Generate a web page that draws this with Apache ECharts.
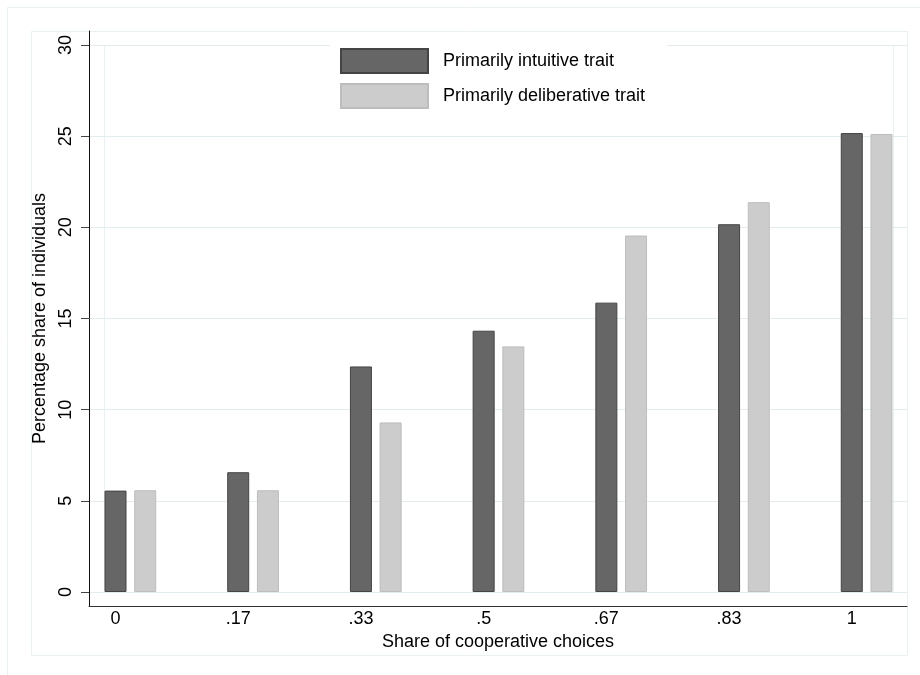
<!DOCTYPE html>
<html>
<head>
<meta charset="utf-8">
<script src="https://cdn.jsdelivr.net/npm/echarts@6/dist/echarts.min.js"></script>
<style>
html,body{margin:0;padding:0;background:#fff;}
#chart{width:920px;height:675px;}
</style>
</head>
<body>
<div id="chart"></div>
<script>
// ---- data ----
const categories = ['0', '.17', '.33', '.5', '.67', '.83', '1'];
const seriesNames = ['Primarily intuitive trait', 'Primarily deliberative trait'];
const intuitive = [5.56, 6.57, 12.37, 14.33, 15.87, 20.17, 25.17];
const deliberative = [5.58, 5.58, 9.30, 13.47, 19.55, 21.38, 25.12];
const yMin = 0, yMax = 30, yStep = 5;
const xTitle = 'Share of cooperative choices';
const yTitle = 'Percentage share of individuals';

const FONT = '"Liberation Sans", Arial, sans-serif';
const faint = '#e9f1f2';
const gridColor = '#e3edf0';

const chart = echarts.init(document.getElementById('chart'), null, {renderer: 'canvas'});
const catIdx = categories.map((_, i) => i);

const option = {
  animation: false,
  backgroundColor: '#ffffff',
  textStyle: {fontFamily: FONT},
  graphic: [
    {type: 'rect', z: 0, silent: true, shape: {x: 7.5, y: 7.5, width: 940, height: 700}, style: {fill: 'none', stroke: faint, lineWidth: 1}},
    {type: 'rect', z: 0, silent: true, shape: {x: 31.5, y: 31.5, width: 876, height: 624}, style: {fill: 'none', stroke: faint, lineWidth: 1}},
    {type: 'rect', z: 0, silent: true, shape: {x: 104.5, y: 45.5, width: 789, height: 547}, style: {fill: 'none', stroke: faint, lineWidth: 1}}
  ],
  legend: {
    orient: 'vertical',
    left: 330,
    top: 38,
    itemWidth: 87,
    itemHeight: 24,
    itemGap: 9,
    padding: [10, 22, 6, 10],
    backgroundColor: '#ffffff',
    icon: 'rect',
    data: seriesNames,
    textStyle: {fontSize: 18, color: '#000', fontFamily: FONT, padding: [0, 0, 0, 10]}
  },
  grid: [
    {left: 89, right: 13, top: 45, bottom: 83},
    {left: 89, right: 13, top: 31, bottom: 69}
  ],
  xAxis: [
    {
      gridIndex: 0,
      type: 'value',
      min: -0.337,
      max: 6.329,
      offset: 14,
      axisLine: {show: false, onZero: false},
      axisTick: {show: false},
      splitLine: {show: false},
      axisLabel: {
        customValues: catIdx,
        formatter: v => (categories[v] !== undefined ? categories[v] : ''),
        padding: [0, 29.7, 0, 0],
        margin: 4,
        fontSize: 18,
        color: '#000',
        fontFamily: FONT
      },
      name: xTitle,
      nameLocation: 'middle',
      nameGap: 18,
      nameTextStyle: {fontSize: 18, color: '#000', fontFamily: FONT, verticalAlign: 'top'}
    },
    {
      gridIndex: 1,
      type: 'value',
      min: 0, max: 1,
      axisLine: {show: true, onZero: false, lineStyle: {color: '#333', width: 1}},
      axisTick: {show: false},
      axisLabel: {show: false},
      splitLine: {show: false}
    }
  ],
  yAxis: [
    {
      gridIndex: 0,
      type: 'value',
      min: yMin,
      max: yMax,
      interval: yStep,
      axisLine: {show: false, onZero: false},
      axisTick: {show: true, length: 8, lineStyle: {color: '#444'}},
      splitLine: {show: true, lineStyle: {color: gridColor, width: 1}},
      axisLabel: {rotate: 90, margin: 14, fontSize: 18, color: '#000', fontFamily: FONT},
      name: yTitle,
      nameLocation: 'middle',
      nameGap: 36,
      nameTextStyle: {fontSize: 18, color: '#000', fontFamily: FONT}
    },
    {
      gridIndex: 1,
      type: 'value',
      min: 0, max: 1,
      axisLine: {show: true, onZero: false, lineStyle: {color: '#111', width: 1}},
      axisTick: {show: false},
      axisLabel: {show: false},
      splitLine: {show: false}
    }
  ],
  series: [
    {
      name: seriesNames[0],
      type: 'bar',
      xAxisIndex: 0, yAxisIndex: 0,
      barWidth: 22,
      barGap: '35%',
      itemStyle: {color: '#666666', borderColor: '#444444', borderWidth: 1},
      data: intuitive.map((v, i) => [catIdx[i], v])
    },
    {
      name: seriesNames[1],
      type: 'bar',
      xAxisIndex: 0, yAxisIndex: 0,
      barWidth: 22,
      barGap: '35%',
      itemStyle: {color: '#cccccc', borderColor: '#bdbdbd', borderWidth: 1},
      data: deliberative.map((v, i) => [catIdx[i], v])
    }
  ]
};
chart.setOption(option);
</script>
</body>
</html>
